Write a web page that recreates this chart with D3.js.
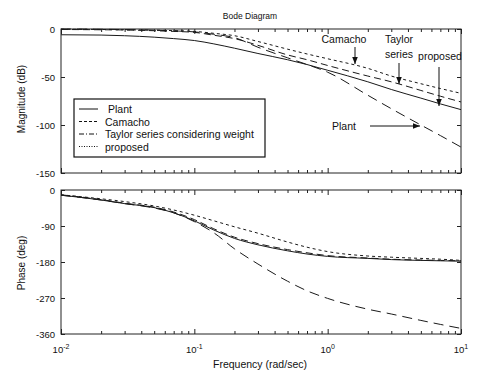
<!DOCTYPE html>
<html>
<head>
<meta charset="utf-8">
<script src="https://cdn.jsdelivr.net/npm/d3@7"></script>
<style>
  body { margin: 0; background: #fff; }
  text { font-family: "Liberation Sans", Arial, sans-serif; fill: #111; }
</style>
</head>
<body>
<div class="container"></div>
<script>
// frequencies (rad/sec) shared by all curves
const freq = [0.01, 0.02, 0.03, 0.05, 0.07, 0.1, 0.14, 0.2, 0.3, 0.5, 0.7, 1, 2, 3, 5, 7, 10];

// magnitude (dB)
const magPlant    = [0, -0.3, -0.6, -1.2, -2, -3, -5.5, -9, -19, -30, -37, -45, -69, -83, -100, -111, -123];
const magCamacho  = [-0.3, -0.5, -0.8, -1.2, -1.7, -2.5, -4.5, -7, -13, -21, -26, -31, -41, -49, -57, -62, -67];
const magTaylor   = [-0.5, -0.8, -1, -1.8, -2.5, -3.5, -6.5, -10, -17, -27, -32, -38, -49, -55, -64, -70, -76];
const magProposed = [-6, -6.3, -7, -8.5, -10, -12, -15.5, -20, -25.5, -32, -37, -43, -55, -63, -72, -78, -84];

// phase (deg)
const phPlant    = [-13, -25, -34, -45, -57, -79, -107, -147, -185, -228, -252, -271, -298, -310, -326, -336, -346];
const phCamacho  = [-12, -22, -29, -40, -50, -63, -77, -92, -108, -130, -143, -154, -165, -168, -171, -173, -176];
const phTaylor   = [-12, -24, -33, -43, -55, -74, -97, -118, -134, -149, -157, -164, -170, -173, -175, -176, -177];
const phProposed = [-13, -25, -34, -44, -57, -77, -100, -121, -137, -152, -160, -166, -171, -174, -176, -177, -178];

const magTicks = [0, -50, -100, -150];
const phTicks = [0, -90, -180, -270, -360];
const decades = [0.01, 0.1, 1, 10];
const decadeExp = ["-2", "-1", "0", "1"];

const legendNames = ["Plant", "Camacho", "Taylor series considering weight", "proposed"];

const width = 482;
const height = 372;

const svg = d3.select(".container").append("svg")
  .attr("width", width)
  .attr("height", height);

const x = d3.scaleLog().domain([0.01, 10]).range([61, 461]);
const yMag = d3.scaleLinear().domain([-150, 0]).range([173, 29]);
const yPh = d3.scaleLinear().domain([-360, 0]).range([334, 190]);

// minor ticks for the log axis
const minorTicks = [];
decades.slice(0, 3).forEach(d => {
  for (let k = 2; k <= 9; k++) minorTicks.push(d * k);
});

const drawPanel = (y, ticks) => {
  const g = svg.append("g");
  const [y0, y1] = y.range();

  g.append("g")
    .attr("transform", "translate(61,0)")
    .call(d3.axisLeft(y).tickValues(ticks).tickSize(-4).tickPadding(6).tickFormat(d => d))
    .call(a => a.select(".domain").remove())
    .selectAll("text").style("font-size", "9.5px").attr("fill", "#111");

  g.append("g")
    .attr("transform", "translate(461,0)")
    .call(d3.axisRight(y).tickValues(ticks).tickSize(-4).tickFormat(""))
    .call(a => a.select(".domain").remove());

  [[y0, d3.axisBottom], [y1, d3.axisTop]].forEach(([yy, ax]) => {
    g.append("g")
      .attr("transform", `translate(0,${yy})`)
      .call(ax(x).tickValues(decades).tickSize(-5).tickFormat(""))
      .call(a => a.select(".domain").remove());
    g.append("g")
      .attr("transform", `translate(0,${yy})`)
      .call(ax(x).tickValues(minorTicks).tickSize(-3).tickFormat(""))
      .call(a => a.select(".domain").remove());
  });

  g.selectAll(".tick line").attr("stroke", "#222");

  g.append("rect")
    .attr("x", 61)
    .attr("y", y1)
    .attr("width", 400)
    .attr("height", y0 - y1)
    .attr("fill", "none")
    .attr("stroke", "#222")
    .attr("stroke-width", 1);
};

drawPanel(yMag, magTicks);
drawPanel(yPh, phTicks);

// x tick labels with exponents
const xl = svg.append("g").selectAll("text")
  .data(decades)
  .enter()
  .append("text")
  .attr("x", d => x(d))
  .attr("y", 353)
  .attr("text-anchor", "middle")
  .style("font-size", "9.5px");
xl.append("tspan").text("10");
xl.append("tspan")
  .attr("dy", "-4")
  .style("font-size", "7px")
  .text((d, i) => decadeExp[i]);

const lineStyles = [
  { data: [magPlant, phPlant], dash: "10,6" },
  { data: [magCamacho, phCamacho], dash: "3,3" },
  { data: [magTaylor, phTaylor], dash: "7,4" },
  { data: [magProposed, phProposed], dash: null }
];

const plotCurve = (vals, y, dash) => {
  const line = d3.line()
    .x(d => x(d[0]))
    .y(d => y(d[1]))
    .curve(d3.curveMonotoneX);
  svg.append("path")
    .datum(freq.map((f, i) => [f, vals[i]]))
    .attr("fill", "none")
    .attr("stroke", "#1a1a1a")
    .attr("stroke-width", 1)
    .attr("stroke-dasharray", dash)
    .attr("d", line);
};

lineStyles.forEach(s => {
  plotCurve(s.data[0], yMag, s.dash);
  plotCurve(s.data[1], yPh, s.dash);
});

// titles
svg.append("text")
  .attr("x", 250)
  .attr("y", 19)
  .attr("text-anchor", "middle")
  .style("font-size", "8.5px")
  .text("Bode Diagram");

svg.append("text")
  .attr("transform", "translate(25,99) rotate(-90)")
  .attr("text-anchor", "middle")
  .style("font-size", "10px")
  .text("Magnitude (dB)");

svg.append("text")
  .attr("transform", "translate(25,263) rotate(-90)")
  .attr("text-anchor", "middle")
  .style("font-size", "10px")
  .text("Phase (deg)");

svg.append("text")
  .attr("x", 260)
  .attr("y", 368)
  .attr("text-anchor", "middle")
  .style("font-size", "10.5px")
  .text("Frequency (rad/sec)");

// legend
const legendDash = [null, "3,2", "5,2,1,2", "1,1.5"];
const legend = svg.append("g");
legend.append("rect")
  .attr("x", 74)
  .attr("y", 99)
  .attr("width", 191)
  .attr("height", 58)
  .attr("fill", "#fff")
  .attr("stroke", "#111")
  .attr("stroke-width", 1.2);

const rows = legend.selectAll("g.row")
  .data(legendNames)
  .enter()
  .append("g")
  .attr("transform", (d, i) => `translate(0,${109 + i * 12.5})`);
rows.append("line")
  .attr("x1", 79).attr("x2", 98)
  .attr("stroke", "#111")
  .attr("stroke-width", 1)
  .attr("stroke-dasharray", (d, i) => legendDash[i]);
rows.append("text")
  .attr("x", (d, i) => i === 0 ? 108 : 105)
  .attr("y", 4)
  .style("font-size", "10.5px")
  .text(d => d);

// annotations with arrows
svg.append("defs").append("marker")
  .attr("id", "arr")
  .attr("viewBox", "0 0 10 10")
  .attr("refX", 10).attr("refY", 5)
  .attr("markerWidth", 7).attr("markerHeight", 7)
  .attr("orient", "auto")
  .append("path")
  .attr("d", "M0,1 L10,5 L0,9 Z")
  .attr("fill", "#111");

const notes = [
  { label: ["Camacho"], tx: 344, ty: 43, from: [355, 47], to: [355, 64] },
  { label: ["Taylor", "series"], tx: 399, ty: 43, from: [399, 63], to: [399, 84] },
  { label: ["proposed"], tx: 440, ty: 60, from: [439, 67], to: [439, 106] },
  { label: ["Plant"], tx: 344, ty: 130, from: [370, 126], to: [420, 126] }
];

notes.forEach(n => {
  const t = svg.append("text")
    .attr("x", n.tx)
    .attr("y", n.ty)
    .attr("text-anchor", "middle")
    .style("font-size", "10.5px");
  n.label.forEach((s, i) => {
    t.append("tspan").attr("x", n.tx).attr("dy", i === 0 ? 0 : 15).text(s);
  });
  svg.append("line")
    .attr("x1", n.from[0]).attr("y1", n.from[1])
    .attr("x2", n.to[0]).attr("y2", n.to[1])
    .attr("stroke", "#111")
    .attr("stroke-width", 1)
    .attr("marker-end", "url(#arr)");
});
</script>
</body>
</html>
